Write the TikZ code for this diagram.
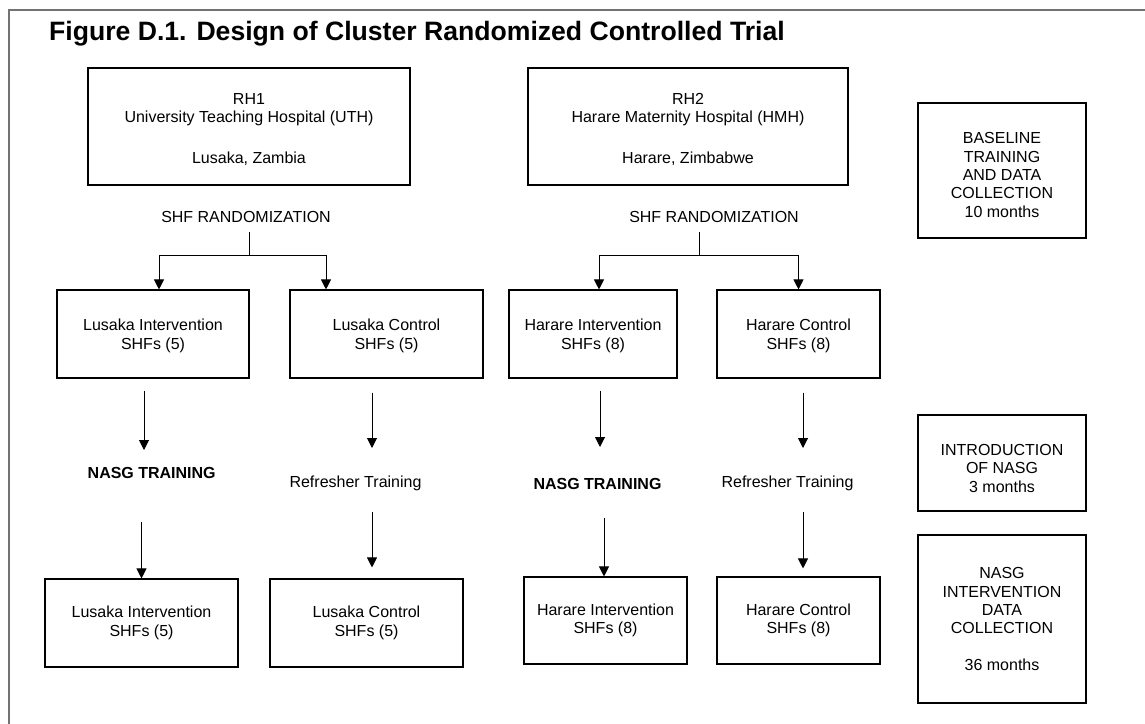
\documentclass[tikz,border=0pt]{standalone}
\usepackage{fontspec}
\setmainfont{Liberation Sans}
\usetikzlibrary{arrows.meta}
\tikzset{
  font={\fontsize{16pt}{18.4pt}\selectfont}}
\newcommand{\lift}[1]{\rule{0pt}{#1}}

\begin{document}
\begin{tikzpicture}[x=1pt,y=-1pt,
  box/.style={draw=black,line width=1.1pt,align=center,inner sep=0pt},
  lbl/.style={inner sep=0pt},
  arr/.style={line width=1pt,-{Triangle[width=10pt,length=10pt]}}]
\useasboundingbox (0,0) rectangle (1145,723);
% outer frame
\draw [black!55,line width=2pt] (9,730) -- (9,10) -- (1150,10);
\node [lbl,anchor=base west,font={\fontsize{26.6pt}{30pt}\selectfont\bfseries}] (title) at (49,40) {Figure D.1. Design of Cluster Randomized Controlled Trial};
% hospitals
\node [box,minimum width=322pt,minimum height=117pt] (rh1) at (249,126.5) {\lift{16.5pt}RH1\\University Teaching Hospital (UTH)\\[22pt]Lusaka, Zambia};
\node [box,minimum width=320pt,minimum height=117pt] (rh2) at (688,126.5) {\lift{16.5pt}RH2\\Harare Maternity Hospital (HMH)\\[22pt]Harare, Zimbabwe};
\node [lbl] (lrand) at (246,217) {SHF RANDOMIZATION};
\node [lbl] (rrand) at (714,217) {SHF RANDOMIZATION};
% arms
\node [box,minimum width=192pt,minimum height=88pt] (li) at (153,334) {\lift{15pt}Lusaka Intervention\\SHFs (5)};
\node [box,minimum width=193pt,minimum height=88pt] (lc) at (386.5,334) {\lift{15pt}Lusaka Control\\SHFs (5)};
\node [box,minimum width=168pt,minimum height=88pt] (hi) at (593,334) {\lift{15pt}Harare Intervention\\SHFs (8)};
\node [box,minimum width=163pt,minimum height=88pt] (hc) at (798.5,334) {\lift{15pt}Harare Control\\SHFs (8)};
\node [lbl,font={\fontsize{16pt}{18.4pt}\selectfont\bfseries}] (ltrain) at (151.7,473) {NASG TRAINING};
\node [lbl] (lref) at (355.5,483) {Refresher Training};
\node [lbl,font={\fontsize{16pt}{18.4pt}\selectfont\bfseries}] (rtrain) at (597.5,484) {NASG TRAINING};
\node [lbl] (rref) at (787.5,483) {Refresher Training};
\node [box,minimum width=193pt,minimum height=88pt] (li2) at (141.5,623) {Lusaka Intervention\\SHFs (5)};
\node [box,minimum width=193pt,minimum height=88pt] (lc2) at (366.5,623) {Lusaka Control\\SHFs (5)};
\node [box,minimum width=163pt,minimum height=87pt] (hi2) at (605.5,620.5) {Harare Intervention\\SHFs (8)};
\node [box,minimum width=163pt,minimum height=87pt] (hc2) at (798.5,620.5) {Harare Control\\SHFs (8)};
% phases
\node [box,minimum width=168pt,minimum height=135pt] (base) at (1002,170.5) {\lift{20pt}BASELINE\\TRAINING\\AND DATA\\COLLECTION\\10 months};
\node [box,minimum width=168pt,minimum height=96pt] (intro) at (1002,463) {\lift{22pt}INTRODUCTION\\OF NASG\\3 months};
\node [box,minimum width=168pt,minimum height=168pt] (nint) at (1002,619) {NASG\\INTERVENTION\\DATA\\COLLECTION\\[18pt]36 months};
% randomization
\coordinate (lsplit) at (249,255);
\coordinate (rsplit) at (699,255);
\draw [line width=1pt,shorten <=15pt] (lsplit |- lrand) -- (lsplit);
\draw [arr] (lsplit) -| ([xshift=6pt]li.north);
\draw [arr] (lsplit) -| ([xshift=-60.5pt]lc.north);
\draw [line width=1pt,shorten <=15pt] (rsplit |- rrand) -- (rsplit);
\draw [arr] (rsplit) -| ([xshift=6pt]hi.north);
\draw [arr] (rsplit) -| (hc.north);
% training
\coordinate (a1) at ([xshift=-9pt]li.south);
\coordinate (a2) at ([xshift=-14.5pt]lc.south);
\coordinate (a3) at ([xshift=7pt]hi.south);
\coordinate (a4) at ([xshift=4.5pt]hc.south);
\draw [arr,shorten <=12pt,shorten >=23pt] (a1) -- (a1 |- ltrain);
\draw [arr,shorten <=14pt,shorten >=35pt] (a2) -- (a2 |- lref);
\draw [arr,shorten <=12pt,shorten >=37pt] (a3) -- (a3 |- rtrain);
\draw [arr,shorten <=14pt,shorten >=35pt] (a4) -- (a4 |- rref);
\coordinate (b2) at ([xshift=5.5pt]lc2.north);
\coordinate (b3) at ([xshift=-1.5pt]hi2.north);
\coordinate (b4) at ([xshift=4.5pt]hc2.north);
\draw [arr,shorten <=49pt] (li2.north |- ltrain) -- (li2.north);
\draw [arr,shorten <=29pt,shorten >=11pt] (b2 |- lref) -- (b2);
\draw [arr,shorten <=34pt] (b3 |- rtrain) -- (b3);
\draw [arr,shorten <=29pt,shorten >=8pt] (b4 |- rref) -- (b4);
\end{tikzpicture}
\end{document}
